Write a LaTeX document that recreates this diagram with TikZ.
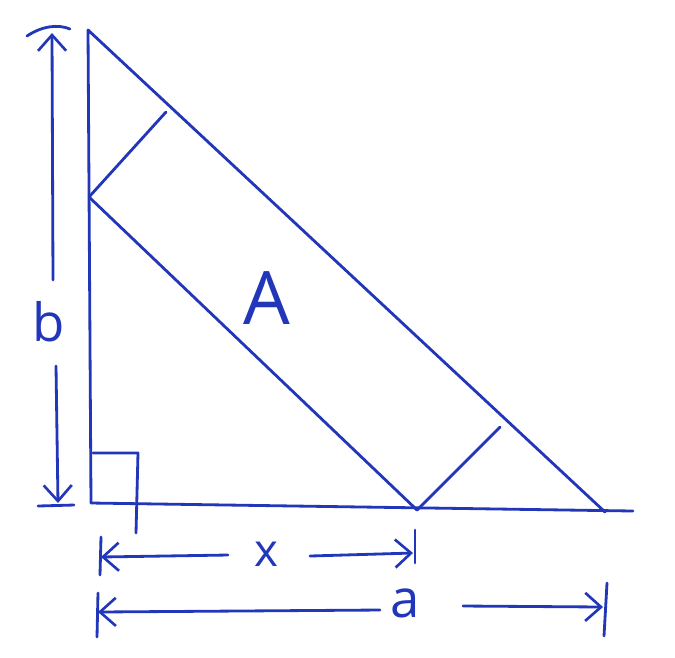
\documentclass[tikz,border=0pt]{standalone}
\usepackage{fontspec}
\setmainfont{Open Sans}
\usetikzlibrary{arrows.meta}
\definecolor{pen}{RGB}{34,54,185}
\tikzset{
  ink/.style={draw=pen, line width=1.6pt, line cap=round, line join=round},
  dimtip/.style={ink, -{Straight Barb[length=9pt,width=16pt,line width=1.5pt]}},
  lbl/.style={text=pen, inner sep=0pt, font=\fontsize{30}{32}\selectfont},
}
\begin{document}
\begin{tikzpicture}[x=0.02cm,y=-0.02cm]
\useasboundingbox (0,0) rectangle (675,657);

% triangle
\coordinate (T) at (88,30);
\coordinate (O) at (91,503);
\coordinate (R) at (605,512);
\coordinate (E) at (633,511);
\draw[ink] (O) -- (T) -- (R);
\draw[ink] (O) -- (E);

% rectangle
\coordinate (P) at (89,197);
\coordinate (Q) at (166,112);
\coordinate (S) at (417,510);
\coordinate (U) at (500,427);
\draw[ink] (Q) -- (P) -- (S) -- (U);
\node[lbl, font=\fontsize{42}{44}\selectfont] (A) at (267,298) {A};

% right angle
\coordinate (m1) at (93,453);
\coordinate (m2) at (138,453);
\coordinate (m3) at (136,533);
\draw[ink] (m1) -- (m2) -- (m3);

% b
\node[lbl] (b) at (49,322) {b};
\coordinate (bt) at (52,33);
\coordinate (bb) at (58,503);
\coordinate (b1) at (53,280);
\coordinate (b2) at (56,366);
\draw[dimtip] (b1) -- (bt);
\draw[dimtip] (b2) -- (bb);
\draw[ink] (27,36) .. controls (42,26) and (58,24) .. (70,29);
\draw[ink] (38,506) -- (74,505);

% x
\node[lbl, font=\fontsize{26}{28}\selectfont] (x) at (266,554) {x};
\coordinate (xl) at (101,557);
\coordinate (xr) at (413,553);
\draw[dimtip] (228,555) -- (xl);
\draw[dimtip] (310,556) -- (xr);
\draw[ink] (101,537) -- (100,575);
\draw[ink] (415,530) -- (415,563);

% a
\node[lbl] (a) at (405,603) {a};
\coordinate (al) at (98,612);
\coordinate (ar) at (603,607);
\draw[dimtip] (380,610) -- (al);
\draw[dimtip] (463,606) -- (ar);
\draw[ink] (98,593) -- (97,637);
\draw[ink] (607,583) -- (604,636);
\end{tikzpicture}
\end{document}
